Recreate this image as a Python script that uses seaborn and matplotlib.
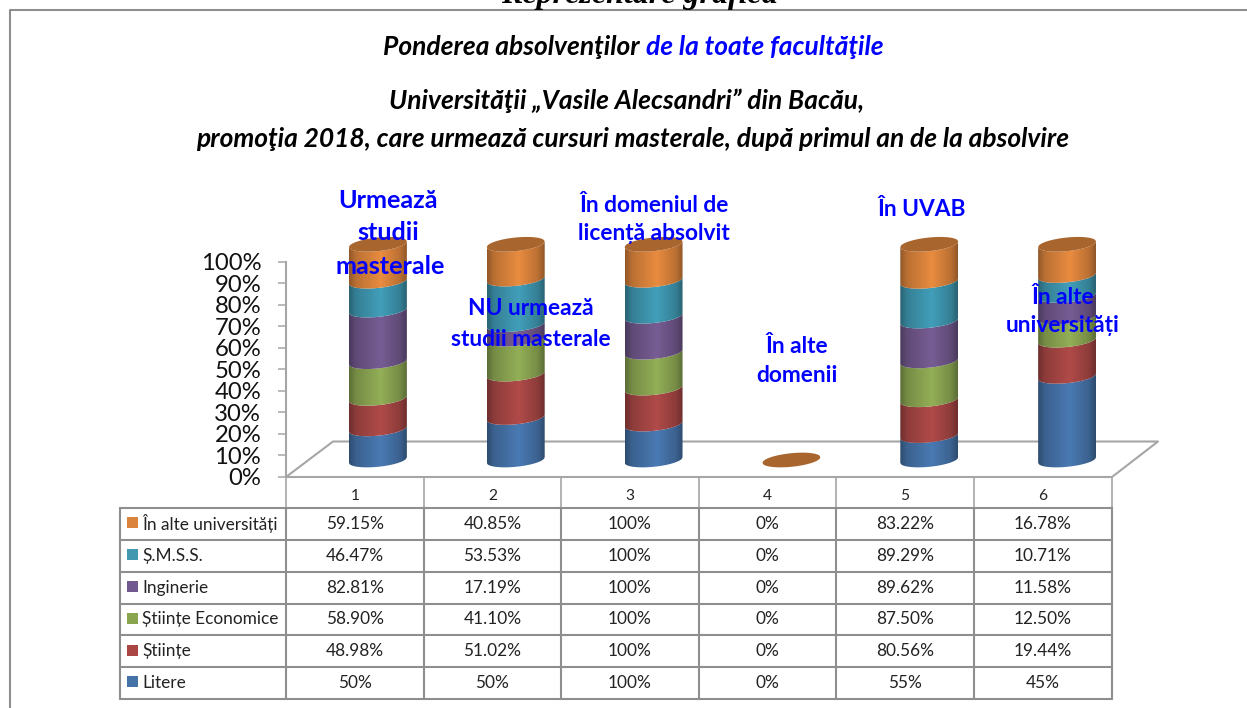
import numpy as np
import pandas as pd
import seaborn as sns
import matplotlib
matplotlib.use("Agg")
import matplotlib.pyplot as plt
from matplotlib.colors import to_rgb
from matplotlib.patches import Polygon

W, H = 1247, 708

columns = ["1", "2", "3", "4", "5", "6"]
litere = [50, 50, 100, 0, 55, 45]
stiinte = [48.98, 51.02, 100, 0, 80.56, 19.44]
economice = [58.90, 41.10, 100, 0, 87.50, 12.50]
inginerie = [82.81, 17.19, 100, 0, 89.62, 11.58]
smss = [46.47, 53.53, 100, 0, 89.29, 10.71]
alte_univ = [59.15, 40.85, 100, 0, 83.22, 16.78]

series_names = ["Litere", "Științe", "Științe Economice", "Inginerie", "Ș.M.S.S.", "În alte universități"]
series_values = [litere, stiinte, economice, inginerie, smss, alte_univ]
series_colors = ["#4A7AB3", "#B04B49", "#93AF57", "#775D94", "#429FBA", "#E98C40"]
legend_colors = ["#4572A7", "#AA4643", "#89A54E", "#71588F", "#4198AF", "#DB843D"]
cap_color = "#A8662E"

sns.set_theme(style="white")
plt.rcParams["font.family"] = ["Lato", "DejaVu Sans"]


def fx(x):
    return x / W


def fy(y):
    return 1 - y / H


fig = plt.figure(figsize=(W / 100, H / 100), dpi=100, facecolor="white")

# pixel-space layer: frame, floor, table grid
bg = fig.add_axes([0, 0, 1, 1], zorder=0)
bg.set_xlim(0, W)
bg.set_ylim(H, 0)
bg.axis("off")
GRAY = "#8E8E8E"
LIGHT = "#A6A6A6"
bg.plot([9.5, 9.5, W], [H, 10, 10], color=GRAY, lw=1.5)
bg.plot([286, 333, 1158, 1112, 286], [477, 441.5, 441.5, 477, 477], color=LIGHT, lw=1.5)

col_edges = [286, 424, 561, 699, 836, 974, 1111.5]
row_edges = [507.5, 539.7, 571.7, 603.7, 635.2, 666.8, 698.8]
for x in col_edges:
    bg.plot([x, x], [477, 507.5], color=LIGHT, lw=1.2)
    bg.plot([x, x], [507.5, 698.8], color=GRAY, lw=1.5)
bg.plot([120, 120], [507.5, 698.8], color=GRAY, lw=1.5)
for y in row_edges:
    bg.plot([120, 1111.5], [y, y], color=GRAY, lw=1.5)


def fmt(v):
    return f"{v:.0f}%" if float(v).is_integer() else f"{v:.2f}%"


TABLE_PT = 12.4
for i, name in enumerate(columns):
    xc = (col_edges[i] + col_edges[i + 1]) / 2
    fig.text(fx(xc), fy(496.5), name, ha="center", va="center", fontsize=11.2, color="#222222")
for r, (name, vals, col) in enumerate(zip(series_names[::-1], series_values[::-1], legend_colors[::-1])):
    yc = (row_edges[r] + row_edges[r + 1]) / 2
    bg.fill([127, 138, 138, 127], [yc - 6.5, yc - 6.5, yc + 4.5, yc + 4.5], color=col, lw=0)
    fig.text(fx(142), fy(yc), name, ha="left", va="center", fontsize=12.4, color="#222222")
    for i, v in enumerate(vals):
        xc = (col_edges[i] + col_edges[i + 1]) / 2
        fig.text(fx(xc), fy(yc), fmt(v), ha="center", va="center", fontsize=TABLE_PT, color="#222222")

# percentage axis
yax = fig.add_axes([fx(286), fy(476.5), 8 / W, 214.5 / H], zorder=1, facecolor="none")
yax.set_ylim(0, 100)
yax.set_xticks([])
yax.set_yticks(np.arange(0, 101, 10))
yax.set_yticklabels([f"{t}%" for t in range(0, 101, 10)], fontsize=17.2, color="#111111")
yax.tick_params(axis="y", length=5.8, width=1.1, color=LIGHT, pad=12, left=True)
for s in yax.spines.values():
    s.set_visible(False)
yax.spines["left"].set_visible(True)
yax.spines["left"].set_color(LIGHT)
yax.spines["left"].set_linewidth(1.5)

# stacked bars, turned into cylinders
BAR_TOP, BAR_BASE = 244.3, 460.0
PX = 100 / (BAR_BASE - BAR_TOP)  # data units per pixel
Y_MIN, Y_MAX = -10, 110
ax_bottom_px = BAR_BASE - Y_MIN / PX
ax_top_px = BAR_BASE - Y_MAX / PX
ax = fig.add_axes([fx(309), fy(ax_bottom_px), (1136 - 309) / W, (ax_bottom_px - ax_top_px) / H],
                  zorder=2, facecolor="none")
ax.axis("off")
totals = np.sum(series_values, axis=0).astype(float)
shares = [np.divide(np.array(v, float), totals, out=np.zeros(6), where=totals > 0) * 100 for v in series_values]
bottom = np.zeros(6)
containers = []
for name, share, col in zip(series_names, shares, series_colors):
    df = pd.DataFrame({"col": columns, "share": share})
    before = len(ax.patches)
    sns.barplot(data=df, x="col", y="share", order=columns, color=col, saturation=1,
                width=0.42, bottom=bottom.copy(), ax=ax, errorbar=None)
    containers.append((col, ax.patches[before:]))
    bottom = bottom + share

SLANT = 2.8 * PX
DEPTH = 6.8 * PX
u = np.linspace(-1, 1, 80)


def arc(y0, sign):
    return y0 + SLANT * u + sign * DEPTH * np.sqrt(1 - u ** 2)


shade_pos = np.linspace(0, 1, 120)
shade = np.interp(shade_pos, [0, 0.12, 0.55, 0.88, 1], [0.62, 0.80, 1.0, 0.80, 0.62])
for col, patches in containers:
    rgb = np.array(to_rgb(col))
    img = (shade[None, :, None] * rgb[None, None, :])
    for p in patches:
        x0, w = p.get_x(), p.get_width()
        y0, h = p.get_y(), p.get_height()
        p.set_visible(False)
        if h <= 0:
            continue
        xs = x0 + (u + 1) / 2 * w
        pts = np.r_[np.c_[xs, arc(y0 + h, -1)], np.c_[xs[::-1], arc(y0, -1)[::-1]]]
        poly = Polygon(pts, closed=True, transform=ax.transData, fc="none", ec="none")
        ax.add_patch(poly)
        im = ax.imshow(img, extent=[x0, x0 + w, Y_MIN, Y_MAX], aspect="auto", zorder=3, interpolation="bilinear")
        im.set_clip_path(poly)

# top caps sit on each stack's cumulative height
for i, top in enumerate(bottom):
    x0 = i - 0.21
    xs = x0 + (u + 1) / 2 * 0.42
    pts = np.r_[np.c_[xs, arc(top, 1)], np.c_[xs[::-1], arc(top, -1)[::-1]]]
    ax.add_patch(Polygon(pts, closed=True, fc=cap_color, ec="none", zorder=4))
ax.set_xlim(-0.5, 5.5)
ax.set_ylim(Y_MIN, Y_MAX)

# headline text
fig.text(fx(639.5), fy(3), "Reprezentare grafică", ha="center", va="baseline", fontsize=23,
         family="Liberation Serif", weight="bold", style="italic", color="black")
TITLE_PT = 19
fig.text(fx(383), fy(47), "Ponderea absolvenţilor", ha="left", va="center", fontsize=TITLE_PT,
         weight="bold", style="italic", color="black")
fig.text(fx(646), fy(47), "de la toate facultăţile", ha="left", va="center", fontsize=TITLE_PT,
         weight="bold", style="italic", color="#0000FF")
fig.text(fx(626.5), fy(101), "Universităţii „Vasile Alecsandri” din Bacău,", ha="center", va="center",
         fontsize=TITLE_PT, weight="bold", style="italic", color="black")
fig.text(fx(633), fy(139), "promoţia 2018, care urmează cursuri masterale, după primul an de la absolvire",
         ha="center", va="center", fontsize=TITLE_PT, weight="bold", style="italic", color="black")

notes = [
    (388, 200, "Urmează", 18.2), (388, 232, "studii", 18.2), (390, 266, "masterale", 18.2),
    (654, 205, "În domeniul de", 16.4), (654, 234, "licență absolvit", 16.4),
    (531, 309, "NU urmează", 16.4), (531, 339, "studii masterale", 16.4),
    (797, 347, "În alte", 16.4), (797, 376, "domenii", 16.4),
    (922, 209, "În UVAB", 16.4),
    (1063, 297, "În alte", 16.4), (1063, 326, "universități", 16.4),
]
for x, y, s, size in notes:
    fig.text(fx(x), fy(y), s, ha="center", va="center", fontsize=size, weight="bold", color="#0000FF", zorder=10)

fig.savefig("out.png", dpi=100, facecolor="white")
